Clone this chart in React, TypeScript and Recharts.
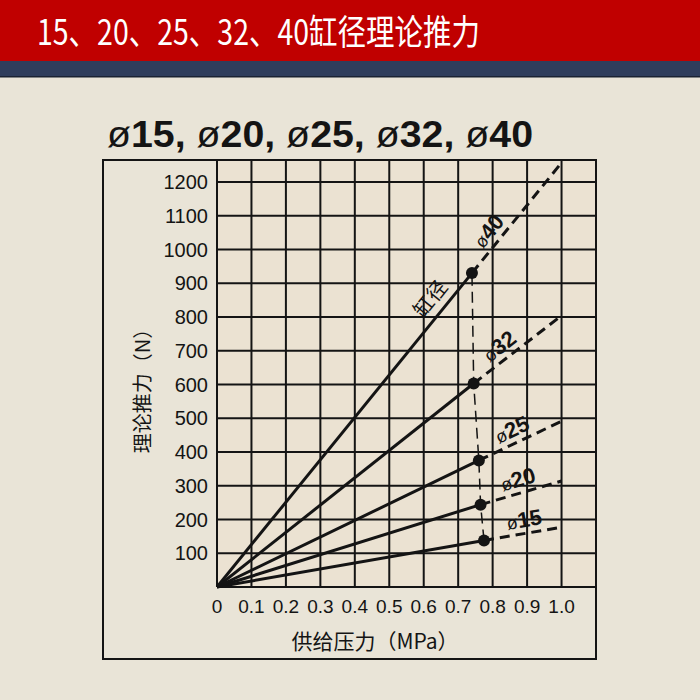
import React from 'react';
import { LineChart, Line, XAxis, YAxis, CartesianGrid } from 'recharts';

// cylinder bores (mm)
const bores = ['15', '20', '25', '32', '40'];
// marked working point of each bore (MPa, N)
const dotPressure = [0.775, 0.765, 0.76, 0.745, 0.74];
const dotForce = [138, 244, 375, 603, 930];
// end of the dashed part of each line
const endPressure = [1.0, 1.0, 1.0, 1.0, 1.0];
const endForce = [177, 314, 491, 804, 1257];

const xTicks = [0, 0.1, 0.2, 0.3, 0.4, 0.5, 0.6, 0.7, 0.8, 0.9, 1.0, 1.1];
const yTicks = [0, 100, 200, 300, 400, 500, 600, 700, 800, 900, 1000, 1100, 1200];
const X_MAX = 1.1;
const Y_MAX = 1265;

const W = 700;
const H = 700;
const PLOT = { left: 217, top: 160, right: 596, bottom: 587 };
const Y_AXIS_W = 60;
const X_AXIS_H = 40;
const PX_X = (PLOT.right - PLOT.left) / X_MAX;
const PX_Y = (PLOT.bottom - PLOT.top) / Y_MAX;

const BG = '#e9e4d7';
const PLOT_BG = '#ebe2d2';
const INK = '#141414';
const SANS = '"Liberation Sans", Arial, sans-serif';
const NARROW = '"Liberation Sans Narrow", "Liberation Sans", Arial, sans-serif';
const CJK = '"Noto Sans CJK SC", "Noto Sans", sans-serif';

const lineAngle = (i: number) => {
  const dx = (endPressure[i] - dotPressure[i]) * PX_X;
  const dy = (endForce[i] - dotForce[i]) * PX_Y;
  return Math.atan2(dy, dx);
};

// place a point "along" the line and "perp" above it
const offsetPoint = (cx: number, cy: number, t: number, along: number, perp: number) => ({
  x: cx + along * Math.cos(t) - perp * Math.sin(t),
  y: cy - along * Math.sin(t) - perp * Math.cos(t),
});

const solidDot = (i: number) => (props: any) => {
  const { cx, cy, index } = props;
  if (index !== 1) return <g key={`s${i}-${index}`} />;
  const t = lineAngle(i);
  const p = offsetPoint(cx, cy, t, -46, 16);
  return (
    <g key={`s${i}-${index}`}>
      <circle cx={cx} cy={cy} r={6} fill={INK} />
      {i === bores.length - 1 && (
        <text
          x={p.x}
          y={p.y}
          dy="0.35em"
          textAnchor="middle"
          fontFamily={CJK}
          fontSize={20}
          fill={INK}
          transform={`rotate(${(-t * 180) / Math.PI}, ${p.x}, ${p.y})`}
        >
          缸径
        </text>
      )}
    </g>
  );
};

const dashLabel = (i: number) => (props: any) => {
  const { cx, cy, index } = props;
  if (index !== 0) return <g key={`l${i}-${index}`} />;
  const t = lineAngle(i);
  const p = offsetPoint(cx, cy, t, 43, 14);
  return (
    <text
      key={`l${i}-${index}`}
      x={p.x}
      y={p.y}
      dy="0.35em"
      textAnchor="middle"
      fontFamily={SANS}
      fontSize={22}
      fontWeight={700}
      fill={INK}
      transform={`rotate(${(-t * 180) / Math.PI}, ${p.x}, ${p.y})`}
    >
      <tspan fontWeight={400} fontSize={18}>ø</tspan>
      <tspan>{bores[i]}</tspan>
    </text>
  );
};

export default function App() {
  const guide = bores.map((_, i) => ({ x: dotPressure[i], y: dotForce[i] }));

  return (
    <div style={{ position: 'fixed', left: 0, top: 0, width: W, height: H, background: BG, overflow: 'hidden' }}>
      <svg width={W} height={H} style={{ position: 'absolute', left: 0, top: 0 }}>
        <rect x={0} y={0} width={W} height={61} fill="#c00000" />
        <rect x={0} y={61} width={W} height={16} fill="#2f3d5c" />
        <rect x={0} y={76} width={W} height={1.5} fill="#1a2233" />
        <text
          x={37}
          y={45}
          fontFamily={`"Liberation Sans Narrow", ${CJK}`}
          fontSize={35}
          fill="#ffffff"
          textLength={443}
          lengthAdjust="spacingAndGlyphs"
        >
          15、20、25、32、40缸径理论推力
        </text>
        <text
          x={107}
          y={147}
          fontFamily={SANS}
          fontSize={37}
          fontWeight={700}
          fill={INK}
          textLength={426}
          lengthAdjust="spacingAndGlyphs"
        >
          <tspan fontWeight={400}>ø</tspan>15, <tspan fontWeight={400}>ø</tspan>20,{' '}
          <tspan fontWeight={400}>ø</tspan>25, <tspan fontWeight={400}>ø</tspan>32,{' '}
          <tspan fontWeight={400}>ø</tspan>40
        </text>
        <text
          x={143}
          y={386}
          textAnchor="middle"
          dy="0.35em"
          fontFamily={CJK}
          fontSize={20}
          fill={INK}
          transform="rotate(-90, 143, 386)"
        >
          理论推力（N）
        </text>
        <text x={375} y={649} textAnchor="middle" fontFamily={CJK} fontSize={21} fill={INK}>
          供给压力（MPa）
        </text>
      </svg>

      <div style={{ position: 'absolute', left: 0, top: 0 }}>
        <LineChart
          width={W}
          height={H}
          margin={{
            top: PLOT.top,
            right: W - PLOT.right,
            bottom: H - PLOT.bottom - X_AXIS_H,
            left: PLOT.left - Y_AXIS_W,
          }}
        >
          <CartesianGrid stroke={INK} strokeWidth={2} fill={PLOT_BG} fillOpacity={1} />
          <XAxis
            type="number"
            dataKey="x"
            domain={[0, X_MAX]}
            ticks={xTicks}
            height={X_AXIS_H}
            axisLine={false}
            tickLine={false}
            tickSize={0}
            tickMargin={13}
            interval={0}
            tickFormatter={(v: number) => (v === 0 ? '0' : v > 1.05 ? '' : v.toFixed(1))}
            tick={{ fill: INK, fontSize: 19, fontFamily: NARROW }}
          />
          <YAxis
            type="number"
            dataKey="y"
            domain={[0, Y_MAX]}
            ticks={yTicks}
            width={Y_AXIS_W}
            axisLine={false}
            tickLine={false}
            tickSize={0}
            tickMargin={9}
            interval={0}
            tickFormatter={(v: number) => (v === 0 ? '' : String(v))}
            tick={{ fill: INK, fontSize: 20, fontFamily: SANS }}
          />
          <Line
            data={guide}
            dataKey="y"
            stroke={INK}
            strokeWidth={1.5}
            strokeDasharray="11 6"
            dot={false}
            activeDot={false}
            isAnimationActive={false}
          />
          {bores.map((b, i) => (
            <Line
              key={`solid-${b}`}
              data={[
                { x: 0, y: 0 },
                { x: dotPressure[i], y: dotForce[i] },
              ]}
              dataKey="y"
              stroke={INK}
              strokeWidth={3}
              dot={solidDot(i)}
              activeDot={false}
              isAnimationActive={false}
            />
          ))}
          {bores.map((b, i) => (
            <Line
              key={`dash-${b}`}
              data={[
                { x: dotPressure[i], y: dotForce[i] },
                { x: endPressure[i], y: endForce[i] },
              ]}
              dataKey="y"
              stroke={INK}
              strokeWidth={3}
              strokeDasharray="10 6"
              dot={dashLabel(i)}
              activeDot={false}
              isAnimationActive={false}
            />
          ))}
        </LineChart>
      </div>

      <svg width={W} height={H} style={{ position: 'absolute', left: 0, top: 0, pointerEvents: 'none' }}>
        <rect x={103} y={160} width={493} height={499} fill="none" stroke={INK} strokeWidth={2} />
      </svg>
    </div>
  );
}
